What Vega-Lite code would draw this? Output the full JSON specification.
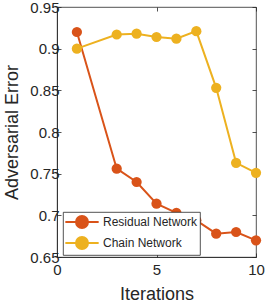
{
  "$schema": "https://vega.github.io/schema/vega-lite/v6.json",
  "autosize": {"type": "none"},
  "padding": {"left": 57, "top": 7, "right": 10, "bottom": 47},
  "width": 199,
  "height": 250,
  "background": "white",
  "config": {
    "font": "Liberation Sans",
    "view": {"stroke": "#262626", "strokeWidth": 0.8},
    "axis": {
      "labelFont": "Liberation Sans",
      "titleFont": "Liberation Sans",
      "labelColor": "#262626",
      "titleColor": "#262626",
      "domainColor": "#262626",
      "tickColor": "#262626",
      "domainWidth": 0.8,
      "tickWidth": 0.8,
      "grid": false,
      "labelFontSize": 15,
      "titleFontSize": 18,
      "titleFontWeight": "normal",
      "tickSize": -4,
      "labelFlush": false,
      "labelOverlap": false
    }
  },
  "data": {
    "values": [
      {"it": 1, "err": 0.92, "net": "Residual Network"},
      {"it": 3, "err": 0.756, "net": "Residual Network"},
      {"it": 4, "err": 0.740, "net": "Residual Network"},
      {"it": 5, "err": 0.714, "net": "Residual Network"},
      {"it": 6, "err": 0.703, "net": "Residual Network"},
      {"it": 7, "err": 0.694, "net": "Residual Network"},
      {"it": 8, "err": 0.678, "net": "Residual Network"},
      {"it": 9, "err": 0.680, "net": "Residual Network"},
      {"it": 10, "err": 0.670, "net": "Residual Network"},
      {"it": 1, "err": 0.900, "net": "Chain Network"},
      {"it": 3, "err": 0.917, "net": "Chain Network"},
      {"it": 4, "err": 0.918, "net": "Chain Network"},
      {"it": 5, "err": 0.914, "net": "Chain Network"},
      {"it": 6, "err": 0.912, "net": "Chain Network"},
      {"it": 7, "err": 0.921, "net": "Chain Network"},
      {"it": 8, "err": 0.853, "net": "Chain Network"},
      {"it": 9, "err": 0.763, "net": "Chain Network"},
      {"it": 10, "err": 0.751, "net": "Chain Network"}
    ]
  },
  "encoding": {
    "x": {
      "field": "it", "type": "quantitative",
      "scale": {"domain": [0, 10], "nice": false, "zero": false},
      "axis": {"values": [0, 5, 10], "title": "Iterations", "labelPadding": 9, "titlePadding": 8}
    },
    "y": {
      "field": "err", "type": "quantitative",
      "scale": {"domain": [0.65, 0.95], "nice": false, "zero": false},
      "axis": {"values": [0.65, 0.7, 0.75, 0.8, 0.85, 0.9, 0.95], "format": ".2~f", "title": "Adversarial Error", "labelPadding": 2, "titlePadding": 8}
    },
    "color": {
      "field": "net", "type": "nominal",
      "scale": {"domain": ["Residual Network", "Chain Network"], "range": ["#D95319", "#EDB120"]},
      "legend": {
        "title": null,
        "orient": "none",
        "legendX": 6,
        "legendY": 205,
        "direction": "vertical",
        "fillColor": "white",
        "strokeColor": "#262626",
        "padding": 2,
        "symbolType": "M-2.38,0L2.38,0M0.857,0A0.857,0.857,0,1,1,-0.857,0A0.857,0.857,0,1,1,0.857,0Z",
        "symbolSize": 196,
        "symbolStrokeWidth": 2,
        "symbolOffset": 9,
        "labelOffset": 13,
        "labelFontSize": 12,
        "labelFont": "Liberation Sans",
        "labelColor": "#262626",
        "rowPadding": 1,
        "encode": {
          "legend": {"update": {"strokeWidth": {"value": 0.8}}},
          "symbols": {"update": {"stroke": {"scale": "color", "field": "value"}, "fill": {"scale": "color", "field": "value"}, "strokeWidth": {"value": 2}, "opacity": {"value": 1}}}
        }
      }
    }
  },
  "layer": [
    {"mark": {"type": "line", "strokeWidth": 2, "point": {"filled": true, "size": 105, "opacity": 1}}},
    {
      "mark": {"type": "point", "opacity": 0},
      "encoding": {
        "x": {"field": "it", "type": "quantitative", "axis": {"orient": "top", "values": [0, 5, 10], "labels": false, "title": null, "domain": false}},
        "y": {"field": "err", "type": "quantitative", "axis": {"orient": "right", "values": [0.65, 0.7, 0.75, 0.8, 0.85, 0.9, 0.95], "labels": false, "title": null, "domain": false}}
      }
    }
  ],
  "resolve": {"axis": {"x": "independent", "y": "independent"}}
}
